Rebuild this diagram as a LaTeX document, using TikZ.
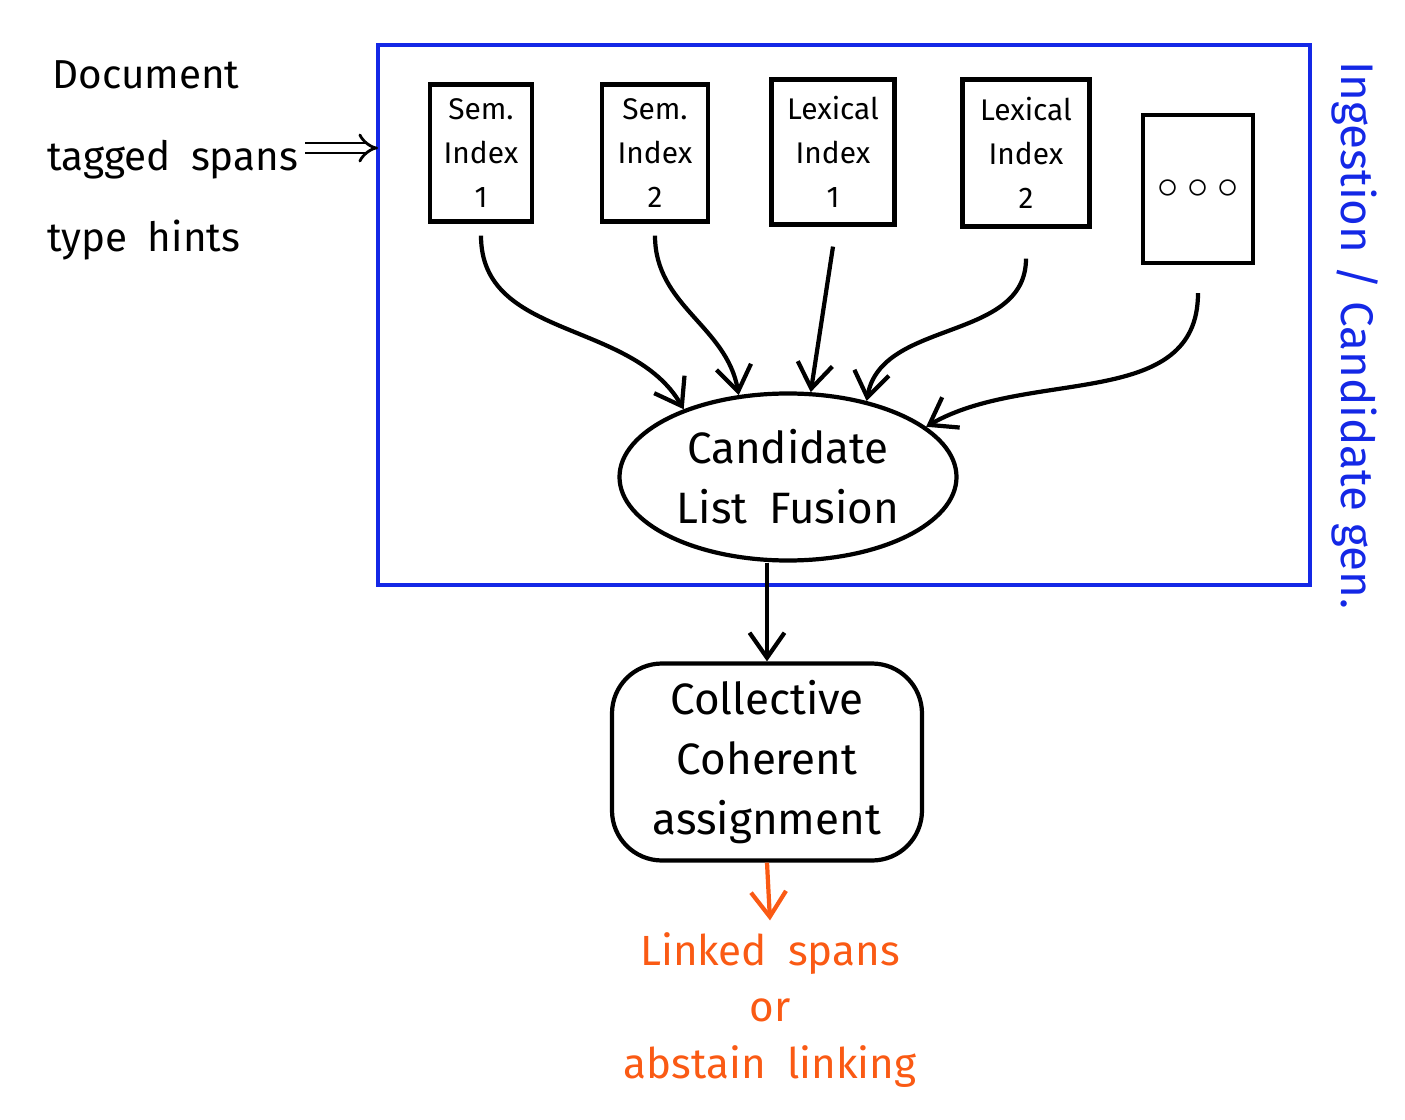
\documentclass[tikz,border=0pt]{standalone}
\usepackage{fontspec}
\setmainfont{Fira Sans}
\usetikzlibrary{shapes.geometric,arrows.meta,positioning}
\definecolor{frameblue}{RGB}{20,40,230}
\definecolor{outorange}{RGB}{250,90,20}
\tikzset{
 idx/.style={draw,very thick,align=center,inner sep=0pt,font=\fontsize{8.5}{12.5}\selectfont},
 big/.style={align=center,font=\fontsize{12.5}{17}\selectfont},
 side/.style={anchor=west,font=\fontsize{11.5}{15}\selectfont},
 arr/.style={very thick,-{Straight Barb[length=2.5mm,width=3.5mm]}}
}
\begin{document}
\begin{tikzpicture}
 \useasboundingbox (0,0) rectangle (14.05,11.19);
 % frame
 \draw[frameblue,very thick] (3.78,10.74) rectangle (13.10,5.34);
 \node[frameblue,rotate=-90,font=\fontsize{13}{17}\selectfont] (lab) at (13.55,7.84) {Ingestion / Candidate gen.};
 % inputs
 \node[side] (in1) at (0.4,10.44) {Document};
 \node[side] (in2) at (0.35,9.59) {tagged\enspace spans};
 \node[side] (in3) at (0.35,8.79) {type\enspace hints};
 \coordinate (ent) at (3.78,9.71);
 \draw[thick,double,double distance=2pt,-{Implies}] (3.05,9.71) -- (ent);
 % indexes
 \node[idx,minimum width=1.02cm,minimum height=1.37cm] (s1) at (4.81,9.66) {Sem.\\Index\\1};
 \node[idx,minimum width=1.06cm,minimum height=1.37cm] (s2) at (6.55,9.66) {Sem.\\Index\\2};
 \node[idx,minimum width=1.23cm,minimum height=1.45cm] (l1) at (8.33,9.67) {Lexical\\Index\\1};
 \node[idx,minimum width=1.27cm,minimum height=1.47cm] (l2) at (10.26,9.66) {Lexical\\Index\\2};
 \node[idx,minimum width=1.10cm,minimum height=1.48cm,font=\large] (dd) at (11.98,9.30) {$\circ\circ\circ$};
 % fusion
 \node[big,draw,very thick,ellipse,minimum width=3.37cm,minimum height=1.67cm,inner sep=0pt] (fus) at (7.88,6.42) {Candidate\\List\enspace Fusion};
 \draw[arr] ([yshift=-0.12cm]s1.south) to[out=-90,in=120] (fus.147);
 \draw[arr] ([yshift=-0.12cm]s2.south) to[out=-90,in=100] (fus.121);
 \draw[arr] ([yshift=-0.2cm]l1.south) -- (fus.75);
 \draw[arr] ([yshift=-0.3cm]l2.south) to[out=-90,in=80] (fus.44);
 \draw[arr] ([yshift=-0.28cm]dd.south) to[out=-90,in=30] (fus.20);
 % assignment
 \node[big,draw,very thick,rounded corners=0.5cm,minimum width=3.1cm,minimum height=1.97cm] (col) at (7.67,3.57) {Collective\\Coherent\\assignment};
 \draw[arr] (col.north |- fus.south) -- (col.north);
 % output
 \node[big,outorange,font=\fontsize{12}{16}\selectfont] (out) at (7.70,1.09) {Linked\enspace spans\\or\\abstain\enspace linking};
 \draw[arr,outorange] (col.south) -- (out.north);
\end{tikzpicture}
\end{document}
